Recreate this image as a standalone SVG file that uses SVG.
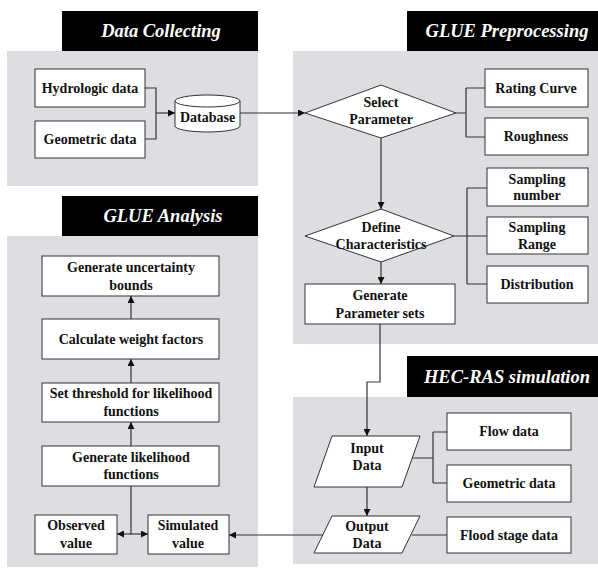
<svg xmlns="http://www.w3.org/2000/svg" width="598" height="569" viewBox="0 0 598 569">
<defs>
<style>
.panel{fill:#dcdee1;stroke:none}
.title{fill:#000}
.tt{font-family:"Liberation Serif",serif;font-weight:bold;font-style:italic;font-size:18.5px;fill:#fff;text-anchor:middle}
.box{fill:#fff;stroke:#333;stroke-width:1}
.t{font-family:"Liberation Serif",serif;font-weight:bold;font-size:14px;fill:#111;text-anchor:middle}
.ln{fill:none;stroke:#333;stroke-width:1.2}
</style>
<marker id="ah" viewBox="0 0 10 10" refX="10" refY="5" markerWidth="7" markerHeight="7" orient="auto" markerUnits="userSpaceOnUse">
<path d="M0,0 L10,5 L0,10 z" fill="#111"/>
</marker>
</defs>
<rect width="598" height="569" fill="#fff"/>

<g id="panels">
<rect class="panel" x="7" y="51" width="251" height="135"/>
<rect class="panel" x="293" y="51" width="305" height="293"/>
<rect class="panel" x="7" y="236" width="251" height="331"/>
<rect class="panel" x="293" y="397" width="305" height="167"/>
<rect class="title" x="62" y="11" width="196" height="40"/>
<text class="tt" x="161" y="37">Data Collecting</text>
<rect class="title" x="407" y="11" width="191" height="40"/>
<text class="tt" x="507" y="37">GLUE Preprocessing</text>
<rect class="title" x="62" y="196" width="196" height="40"/>
<text class="tt" x="163" y="222">GLUE Analysis</text>
<rect class="title" x="407" y="356" width="191" height="41"/>
<text class="tt" x="507" y="383">HEC-RAS simulation</text>
</g>

<g id="connectors">
<path class="ln" d="M145,88 H156 V139 H145"/>
<path class="ln" d="M156,113 H175" marker-end="url(#ah)"/>
<path class="ln" d="M240,113 H305" marker-end="url(#ah)"/>
<path class="ln" d="M456,113 H466 M466,88 V137 M466,88 H485 M466,137 H485"/>
<path class="ln" d="M381,138 V209" marker-end="url(#ah)"/>
<path class="ln" d="M454,236 H467 M467,188 V284 M467,188 H487 M467,236 H487 M467,284 H487"/>
<path class="ln" d="M381,262 V284" marker-end="url(#ah)"/>
<path class="ln" d="M380,324 V382 H367 V436" marker-end="url(#ah)"/>
<path class="ln" d="M411,458 H433 M433,432 V483 M433,432 H447 M433,483 H447"/>
<path class="ln" d="M367,487 V516" marker-end="url(#ah)"/>
<path class="ln" d="M412,535 H447"/>
<path class="ln" d="M324,535 H229" marker-end="url(#ah)"/>
<path class="ln" d="M131,486 V534"/>
<path class="ln" d="M131,534 H117" marker-end="url(#ah)"/>
<path class="ln" d="M131,534 H148" marker-end="url(#ah)"/>
<path class="ln" d="M131,446 V422" marker-end="url(#ah)"/>
<path class="ln" d="M131,383 V359" marker-end="url(#ah)"/>
<path class="ln" d="M131,319 V296" marker-end="url(#ah)"/>
</g>

<g id="hydrologic-data"><rect class="box" x="35" y="69" width="110" height="38"/><text class="t" x="90" y="93">Hydrologic data</text></g>
<g id="geometric-data-1"><rect class="box" x="35" y="121" width="110" height="37"/><text class="t" x="90" y="144">Geometric data</text></g>
<g id="database">
<path class="box" d="M175,101 V126 A32.5,6 0 0 0 240,126 V101"/>
<ellipse class="box" cx="207.5" cy="101" rx="32.5" ry="6"/>
<text class="t" x="207.5" y="122">Database</text>
</g>

<g id="select-parameter"><polygon class="box" points="305,113 381,85 456,113 381,138"/><text class="t" x="381" y="107">Select</text><text class="t" x="381" y="124">Parameter</text></g>
<g id="rating-curve"><rect class="box" x="485" y="69" width="103" height="38"/><text class="t" x="536" y="93">Rating Curve</text></g>
<g id="roughness"><rect class="box" x="485" y="118" width="103" height="37"/><text class="t" x="536" y="141">Roughness</text></g>
<g id="define-characteristics"><polygon class="box" points="305,236 381,209 454,236 381,262"/><text class="t" x="381" y="232">Define</text><text class="t" x="381" y="249">Characteristics</text></g>
<g id="sampling-number"><rect class="box" x="487" y="168" width="101" height="38"/><text class="t" x="537" y="184">Sampling</text><text class="t" x="537" y="200">number</text></g>
<g id="sampling-range"><rect class="box" x="487" y="217" width="101" height="37"/><text class="t" x="537" y="232">Sampling</text><text class="t" x="537" y="249">Range</text></g>
<g id="distribution"><rect class="box" x="487" y="266" width="101" height="37"/><text class="t" x="537" y="289">Distribution</text></g>
<g id="generate-parameter-sets"><rect class="box" x="305" y="284" width="150" height="40"/><text class="t" x="380" y="300">Generate</text><text class="t" x="380" y="318">Parameter sets</text></g>

<g id="input-data"><polygon class="box" points="332,436 420,436 402,487 314,487"/><text class="t" x="367" y="453">Input</text><text class="t" x="367" y="470">Data</text></g>
<g id="output-data"><polygon class="box" points="332,516 420,516 402,553 314,553"/><text class="t" x="367" y="531">Output</text><text class="t" x="367" y="548">Data</text></g>
<g id="flow-data"><rect class="box" x="447" y="413" width="124" height="37"/><text class="t" x="509" y="436">Flow data</text></g>
<g id="geometric-data-2"><rect class="box" x="447" y="465" width="124" height="37"/><text class="t" x="509" y="488">Geometric data</text></g>
<g id="flood-stage-data"><rect class="box" x="447" y="517" width="124" height="36"/><text class="t" x="509" y="540">Flood stage data</text></g>

<g id="generate-uncertainty-bounds"><rect class="box" x="42" y="256" width="177" height="40"/><text class="t" x="131" y="272">Generate uncertainty</text><text class="t" x="131" y="290">bounds</text></g>
<g id="calculate-weight-factors"><rect class="box" x="42" y="319" width="177" height="40"/><text class="t" x="131" y="344">Calculate weight factors</text></g>
<g id="set-threshold"><rect class="box" x="42" y="383" width="177" height="39"/><text class="t" x="131" y="398">Set threshold for likelihood</text><text class="t" x="131" y="416">functions</text></g>
<g id="generate-likelihood"><rect class="box" x="42" y="446" width="177" height="40"/><text class="t" x="131" y="462">Generate likelihood</text><text class="t" x="131" y="479">functions</text></g>
<g id="observed-value"><rect class="box" x="35" y="515" width="82" height="39"/><text class="t" x="76" y="530">Observed</text><text class="t" x="76" y="548">value</text></g>
<g id="simulated-value"><rect class="box" x="148" y="515" width="81" height="39"/><text class="t" x="188" y="530">Simulated</text><text class="t" x="188" y="548">value</text></g>
</svg>
